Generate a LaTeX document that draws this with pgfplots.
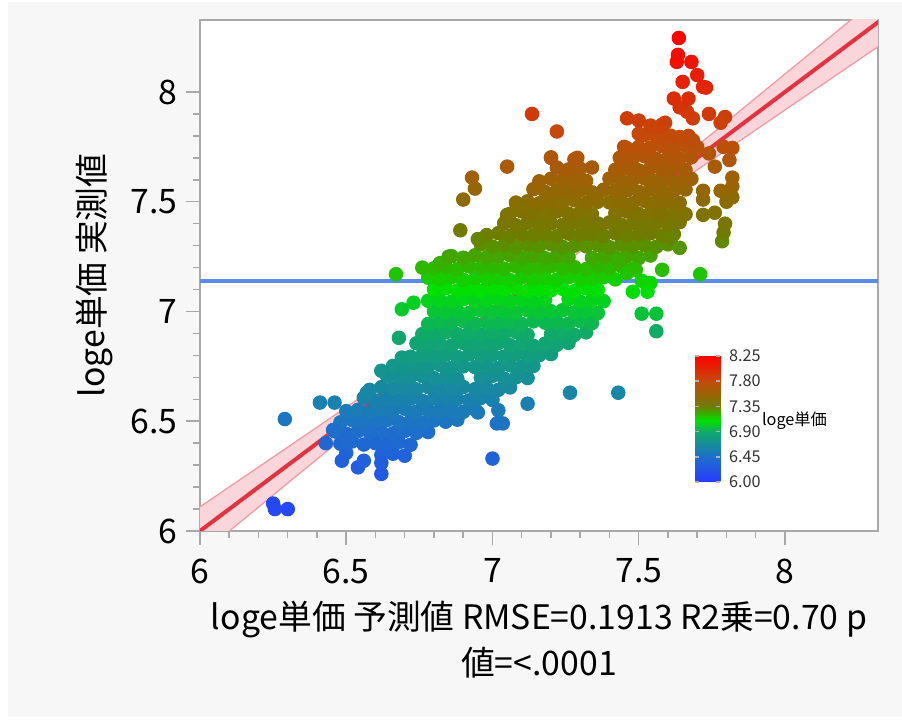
\documentclass[border=0pt]{standalone}
\usepackage{fontspec}
\setmainfont{Noto Sans CJK JP}
\usepackage{pgfplots}
\pgfplotsset{compat=1.18}
\definecolor{bggray}{HTML}{F7F7F7}
\definecolor{framegray}{HTML}{A8A8A8}
\definecolor{fitred}{HTML}{E4323F}
\definecolor{bandpink}{HTML}{FAD6DB}
\definecolor{bandedge}{HTML}{EE9AA6}
\definecolor{meanblue}{HTML}{5B8BEB}
\pgfplotsset{/pgf/number format/assume math mode=true}

\begin{document}
\begin{tikzpicture}
% page background (1px = 0.4pt, axis box lower-left at origin)
\fill[white] (-80pt,-76pt) rectangle (280.8pt,212.4pt);
\fill[bggray] (-76.8pt,-74.4pt) rectangle (280.8pt,211.6pt);
\begin{axis}[
    scale only axis,
    width=271.2pt, height=204.4pt,
    xmin=6, xmax=8.318, ymin=6, ymax=8.328,
    axis background/.style={fill=white},
    axis line style={framegray, line width=0.8pt},
    xtick={6,6.5,7,7.5,8}, ytick={6,6.5,7,7.5,8},
    minor tick num=4,
    tick align=outside, xtick pos=lower, ytick pos=left,
    major tick length=5.6pt, minor tick length=2.8pt,
    every tick/.style={framegray, line width=0.6pt},
    tick label style={font=\fontsize{13.5}{16}\selectfont},
    xticklabel style={yshift=-2pt},
    xlabel={loge単価 予測値 RMSE=0.1913 R2乗=0.70 p\\値=<.0001},
    ylabel={loge単価 実測値},
    label style={font=\fontsize{13.5}{18.4}\selectfont, align=center},
    colormap={jmp}{rgb255(0cm)=(40,60,255) rgb255(4.5cm)=(30,110,205)
        rgb255(9cm)=(15,170,105) rgb255(11cm)=(0,225,0) rgb255(13.5cm)=(110,125,0)
        rgb255(18cm)=(195,75,10) rgb255(22.5cm)=(255,0,0)},
    point meta min=6, point meta max=8.25,
    colorbar,
    colorbar style={
        at={(parent axis.south west)},
        anchor=south west,
        xshift=189.6pt, yshift=19.6pt,
        scale only axis,
        width=10pt, height=50.4pt,
        axis line style={draw=none},
        ytick={6,6.45,6.9,7.35,7.8,8.25},
        minor tick num=0,
        major tick length=1.6pt,
        ytick style={draw=gray!60},
        yticklabel style={font=\fontsize{6.5}{8}\selectfont, text=black!80,
            /pgf/number format/.cd, fixed, fixed zerofill, precision=2},
    },
]
% confidence band of the fit
\addplot[fill=bandpink, draw=none, forget plot] coordinates {
    (6.0,6.110) (6.3,6.382) (6.6,6.655) (6.9,6.931) (7.15,7.170) (7.4,7.431)
    (7.7,7.755) (8.0,8.082) (8.33,8.443)
    (8.33,8.217) (8.0,7.918) (7.7,7.645) (7.4,7.369) (7.15,7.130) (6.9,6.869)
    (6.6,6.545) (6.3,6.218) (6.0,5.890)
};
\addplot[bandedge, line width=0.5pt] coordinates {
    (6.0,6.110) (6.3,6.382) (6.6,6.655) (6.9,6.931) (7.15,7.170) (7.4,7.431)
    (7.7,7.755) (8.0,8.082) (8.33,8.443)};
\addplot[bandedge, line width=0.5pt] coordinates {
    (6.0,5.890) (6.3,6.218) (6.6,6.545) (6.9,6.869) (7.15,7.130) (7.4,7.369)
    (7.7,7.645) (8.0,7.918) (8.33,8.217)};
% fit line and mean line
\addplot[fitred, line width=1.6pt] coordinates {(6,6) (8.33,8.33)};
\addplot[meanblue, line width=1.6pt] coordinates {(6,7.14) (8.33,7.14)};
% observations
\addplot[scatter, only marks, mark=*, mark size=2.7pt, point meta=y,
    scatter/use mapped color={draw=mapped color, fill=mapped color}]
coordinates {
(6.50,6.356) (6.62,6.346) (6.66,6.352) (6.70,6.343)
(6.48,6.398) (6.52,6.408) (6.56,6.394) (6.60,6.400) (6.64,6.397) (6.68,6.404) (6.72,6.393)
(6.46,6.454) (6.50,6.443) (6.54,6.455) (6.58,6.449) (6.62,6.452) (6.66,6.445) (6.70,6.456) (6.74,6.447) (6.78,6.451)
(6.48,6.495) (6.52,6.506) (6.56,6.497) (6.60,6.501) (6.64,6.506) (6.68,6.496) (6.72,6.502) (6.76,6.493) (6.80,6.504) (6.84,6.498) (6.88,6.507)
(6.50,6.546) (6.54,6.552) (6.58,6.543) (6.62,6.554) (6.66,6.548) (6.70,6.557) (6.74,6.544) (6.78,6.550) (6.82,6.547) (6.86,6.553) (6.90,6.543) (6.94,6.555)
(6.56,6.607) (6.60,6.594) (6.64,6.600) (6.68,6.597) (6.72,6.603) (6.76,6.593) (6.80,6.605) (6.84,6.599) (6.88,6.602) (6.92,6.595) (6.96,6.606) (7.00,6.597)
(6.58,6.643) (6.62,6.655) (6.66,6.649) (6.70,6.652) (6.74,6.645) (6.78,6.656) (6.82,6.647) (6.86,6.651) (6.90,6.656) (6.94,6.646) (6.98,6.652) (7.02,6.643) (7.06,6.654)
(6.64,6.706) (6.68,6.697) (6.72,6.701) (6.76,6.706) (6.80,6.696) (6.84,6.702) (6.88,6.693) (6.96,6.698) (7.00,6.707) (7.04,6.694) (7.08,6.700) (7.12,6.697)
(6.66,6.752) (6.70,6.743) (6.74,6.754) (6.78,6.748) (6.82,6.757) (6.86,6.744) (6.90,6.750) (6.94,6.747) (6.98,6.753) (7.02,6.743) (7.06,6.755) (7.10,6.749) (7.14,6.752)
(6.72,6.794) (6.76,6.800) (6.80,6.797) (6.84,6.803) (6.88,6.793) (6.92,6.805) (6.96,6.799) (7.00,6.802) (7.04,6.795) (7.08,6.806) (7.12,6.797) (7.16,6.801) (7.20,6.806)
(6.74,6.855) (6.78,6.849) (6.82,6.852) (6.86,6.845) (6.90,6.856) (6.94,6.847) (6.98,6.851) (7.02,6.856) (7.06,6.846) (7.10,6.852) (7.14,6.843) (7.18,6.854) (7.22,6.848) (7.26,6.857)
(6.76,6.897) (6.80,6.901) (6.84,6.906) (6.88,6.896) (6.92,6.902) (6.96,6.893) (7.00,6.904) (7.04,6.898) (7.08,6.907) (7.12,6.894) (7.20,6.897) (7.24,6.903) (7.28,6.893) (7.32,6.905)
(6.78,6.943) (6.82,6.954) (6.86,6.948) (6.90,6.957) (6.94,6.944) (6.98,6.950) (7.02,6.947) (7.06,6.953) (7.10,6.943) (7.14,6.955) (7.18,6.949) (7.22,6.952) (7.26,6.945) (7.30,6.956) (7.34,6.947)
(6.80,7.000) (6.84,6.997) (6.88,7.003) (6.92,6.993) (6.96,7.005) (7.00,6.999) (7.04,7.002) (7.08,6.995) (7.12,7.006) (7.16,6.997) (7.20,7.001) (7.24,7.006) (7.28,6.996) (7.32,7.002) (7.36,6.993)
(6.78,7.049) (6.82,7.052) (6.86,7.045) (6.90,7.056) (6.94,7.047) (6.98,7.051) (7.02,7.056) (7.06,7.046) (7.10,7.052) (7.14,7.043) (7.18,7.054) (7.26,7.057) (7.30,7.044) (7.34,7.050) (7.38,7.047)
(6.80,7.101) (6.84,7.106) (6.88,7.096) (6.92,7.102) (6.96,7.093) (7.00,7.104) (7.04,7.098) (7.08,7.107) (7.12,7.094) (7.16,7.100) (7.20,7.097) (7.24,7.103) (7.28,7.093) (7.32,7.105) (7.36,7.099)
(6.78,7.154) (6.82,7.148) (6.86,7.157) (6.90,7.144) (6.94,7.150) (6.98,7.147) (7.02,7.153) (7.06,7.143) (7.10,7.155) (7.14,7.149) (7.18,7.152) (7.22,7.145) (7.26,7.156) (7.30,7.147) (7.34,7.151) (7.38,7.156) (7.42,7.146)
(6.80,7.197) (6.84,7.203) (6.88,7.193) (6.92,7.205) (6.96,7.199) (7.00,7.202) (7.04,7.195) (7.08,7.206) (7.12,7.197) (7.16,7.201) (7.20,7.206) (7.24,7.196) (7.28,7.202) (7.32,7.193) (7.36,7.204) (7.40,7.198) (7.44,7.207) (7.48,7.194)
(6.86,7.252) (6.90,7.245) (6.94,7.256) (6.98,7.247) (7.02,7.251) (7.06,7.256) (7.10,7.246) (7.14,7.252) (7.18,7.243) (7.22,7.254) (7.26,7.248) (7.34,7.244) (7.38,7.250) (7.42,7.247) (7.46,7.253) (7.50,7.243) (7.54,7.255)
(6.96,7.306) (7.00,7.296) (7.04,7.302) (7.08,7.293) (7.12,7.304) (7.16,7.298) (7.20,7.307) (7.24,7.294) (7.28,7.300) (7.32,7.297) (7.36,7.303) (7.40,7.293) (7.44,7.305) (7.48,7.299) (7.52,7.302) (7.56,7.295) (7.60,7.306)
(6.98,7.348) (7.02,7.357) (7.06,7.344) (7.10,7.350) (7.14,7.347) (7.18,7.353) (7.22,7.343) (7.26,7.355) (7.30,7.349) (7.34,7.352) (7.38,7.345) (7.42,7.356) (7.46,7.347) (7.50,7.351) (7.54,7.356) (7.58,7.346) (7.62,7.352)
(7.04,7.403) (7.08,7.393) (7.12,7.405) (7.16,7.399) (7.20,7.402) (7.24,7.395) (7.28,7.406) (7.32,7.397) (7.36,7.401) (7.40,7.406) (7.44,7.396) (7.48,7.402) (7.52,7.393) (7.56,7.404) (7.60,7.398) (7.64,7.407)
(7.06,7.445) (7.10,7.456) (7.14,7.447) (7.18,7.451) (7.22,7.456) (7.26,7.446) (7.30,7.452) (7.34,7.443) (7.42,7.448) (7.46,7.457) (7.50,7.444) (7.54,7.450) (7.58,7.447) (7.62,7.453) (7.66,7.443)
(7.08,7.496) (7.12,7.502) (7.16,7.493) (7.20,7.504) (7.24,7.498) (7.28,7.507) (7.32,7.494) (7.36,7.500) (7.40,7.497) (7.44,7.503) (7.48,7.493) (7.52,7.505) (7.56,7.499) (7.60,7.502) (7.64,7.495)
(7.14,7.557) (7.18,7.544) (7.22,7.550) (7.26,7.547) (7.30,7.553) (7.34,7.543) (7.38,7.555) (7.42,7.549) (7.46,7.552) (7.50,7.545) (7.54,7.556) (7.58,7.547) (7.62,7.551) (7.66,7.556)
(7.16,7.593) (7.20,7.605) (7.24,7.599) (7.28,7.602) (7.32,7.595) (7.40,7.606) (7.44,7.597) (7.48,7.601) (7.52,7.606) (7.56,7.596) (7.60,7.602) (7.64,7.593) (7.68,7.604)
(7.22,7.656) (7.26,7.647) (7.30,7.651) (7.34,7.656) (7.42,7.646) (7.46,7.652) (7.50,7.643) (7.54,7.654) (7.58,7.648) (7.62,7.657) (7.66,7.644)
(7.20,7.702) (7.28,7.693) (7.44,7.704) (7.48,7.698) (7.52,7.707) (7.56,7.694) (7.60,7.700) (7.64,7.697) (7.68,7.703)
(7.46,7.744) (7.50,7.750) (7.54,7.747) (7.58,7.753) (7.62,7.743) (7.66,7.755) (7.70,7.749)
(7.52,7.805) (7.56,7.799) (7.60,7.802) (7.64,7.795)
(7.54,7.847) (7.58,7.851)
% scattered points around the main cloud
(6.25,6.125) (6.256,6.10) (6.30,6.10) (6.29,6.51) (6.41,6.585) (6.46,6.585)
(6.43,6.40) (6.485,6.32) (6.54,6.29) (6.56,6.32) (6.62,6.26) (6.62,6.31)
(6.455,6.46) (6.50,6.415) (7.00,6.33) (7.12,6.58) (7.02,6.55) (7.015,6.49)
(7.035,6.49) (6.95,6.54) (7.265,6.63) (7.43,6.63) (6.82,6.55) (6.865,6.54)
(6.57,6.63) (6.62,6.73) (6.69,6.79) (6.68,6.88) (6.69,7.01) (6.73,7.04)
(6.67,7.17) (6.76,7.20) (6.82,7.22) (6.85,7.25) (6.95,7.33) (6.89,7.37)
(6.90,7.51) (6.94,7.56) (6.93,7.61) (7.05,7.66) (7.05,7.44) (7.10,7.47)
(7.135,7.90) (7.22,7.82) (7.20,7.70) (7.29,7.70)
(7.43,7.23) (7.46,7.175) (7.49,7.19) (7.58,7.19) (7.71,7.17) (7.51,7.14)
(7.54,7.13) (7.48,7.09) (7.53,7.09) (7.51,6.99) (7.56,6.99) (7.56,6.91)
(7.61,7.335) (7.64,7.29) (7.785,7.32) (7.79,7.36) (7.795,7.40) (7.72,7.44)
(7.76,7.45) (7.72,7.51) (7.80,7.50) (7.82,7.52) (7.72,7.55) (7.78,7.55)
(7.82,7.57) (7.82,7.61) (7.76,7.66) (7.81,7.69) (7.74,7.72) (7.79,7.75)
(7.82,7.745) (7.45,7.75) (7.435,7.70) (7.67,7.80) (7.685,7.78) (7.61,7.80)
(7.50,7.81) (7.57,7.84) (7.59,7.86) (7.46,7.88) (7.50,7.87) (7.685,7.88)
(7.665,7.91) (7.64,7.93) (7.62,7.97) (7.67,7.97) (7.74,7.90) (7.795,7.886)
(7.78,7.86) (7.72,8.023) (7.73,8.02) (7.70,8.077) (7.65,8.046) (7.63,8.137)
(7.68,8.137) (7.634,8.169) (7.637,8.246)
};
\node[anchor=west, font=\fontsize{6.5}{8}\selectfont] at (axis description cs:0.816,0.216) {loge単価};
\end{axis}
\end{tikzpicture}
\end{document}
